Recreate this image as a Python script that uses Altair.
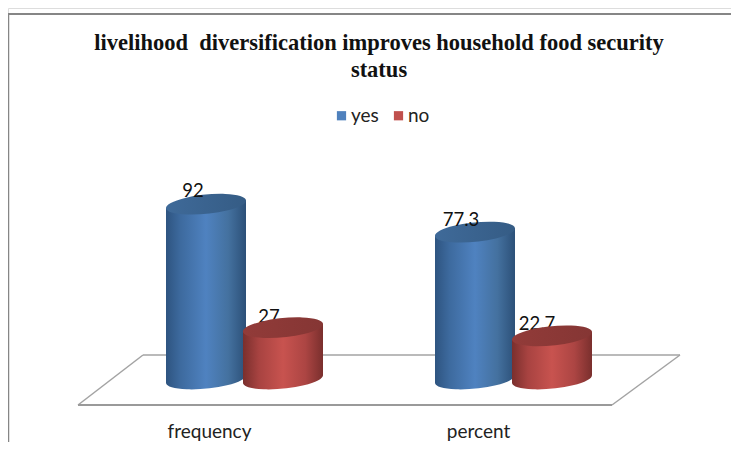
import altair as alt
import pandas as pd

categories = ["frequency", "percent"]
yes_values = [92, 77.3]
no_values = [27, 22.7]
title_lines = ["livelihood\u00a0 diversification improves household food security", "status"]

rows = [{"cat": c, "series": "yes", "value": v} for c, v in zip(categories, yes_values)]
rows += [{"cat": c, "series": "no", "value": v} for c, v in zip(categories, no_values)]
df = pd.DataFrame(rows)
df["label"] = df["value"].map(lambda v: f"{v:g}")

x_scale = alt.Scale(domain=categories, range=[67, 605], paddingInner=0, paddingOuter=0)
y_scale = alt.Scale(domain=[0, 100], range=[371, 181], nice=False, zero=False)
X = alt.X("cat:N", scale=x_scale, sort=categories, title=None,
          axis=alt.Axis(domain=False, ticks=False, labelAngle=0, labelFont="Lato",
                        labelFontSize=19, labelColor="#222222", offset=-23, labelPadding=3))
Y = alt.Y("value:Q", scale=y_scale, axis=None)
Y0 = alt.Y("zero:Q", scale=y_scale, axis=None)

ELLIPSE = "M-1,0.1 A1.005,0.24 -5.7 1 1 1,-0.1 A1.005,0.24 -5.7 1 1 -1,0.1 Z"
TOP_WEDGE = "M-1,0.1 L1,-0.1 L1,0.13 L-1,0.13 Z"
BOTTOM_WEDGE = "M-1,-0.13 L1,-0.13 L1,-0.1 L-1,0.1 Z"


def grad(stops):
    return alt.Gradient(gradient="linear", x1=0, x2=1, y1=0, y2=0,
                        stops=[alt.GradientStop(color=c, offset=o) for o, c in stops])


STYLE = {
    "yes": dict(off=-3.5,
                body=grad([(0, "#2e5480"), (0.18, "#3d6a9e"), (0.5, "#4f82c0"), (0.78, "#44719f"), (1, "#2c5078")]),
                top=grad([(0, "#3f6a99"), (1, "#355c85")])),
    "no": dict(off=73.5,
               body=grad([(0, "#7a2f2d"), (0.2, "#a84341"), (0.5, "#c8534f"), (0.78, "#ac4543"), (1, "#7a2f2d")]),
               top=grad([(0, "#923b39"), (1, "#853634")])),
}


def series_layers(name):
    s = STYLE[name]
    base = alt.Chart(df).transform_filter(alt.datum.series == name).transform_calculate(zero="0")

    def cap(shape, fill, y):
        return base.mark_point(shape=shape, size=6400, filled=True, opacity=1, fill=fill,
                               strokeWidth=0, xOffset=s["off"]).encode(x=X, y=y)

    return [
        cap(ELLIPSE, s["body"], Y0),
        cap(BOTTOM_WEDGE, s["body"], Y0),
        base.mark_bar(width=80, fill=s["body"], xOffset=s["off"], yOffset=4, y2Offset=-4).encode(
            x=X, y=Y, y2=alt.Y2("zero:Q")),
        cap(TOP_WEDGE, s["body"], Y),
    ], cap(ELLIPSE, s["top"], Y)


def label_layer(name, cat, dx, dy=-12):
    return (alt.Chart(df)
            .transform_filter((alt.datum.series == name) & (alt.datum.cat == cat))
            .mark_text(font="Lato", fontSize=18.5, color="#111111", align="center",
                       baseline="middle", dx=dx, dy=dy)
            .encode(x=X, y=Y, text="label:N"))


one = pd.DataFrame({"a": [0]})


def seg(x1, y1, x2, y2, width=1.5, color="#a3a3a3"):
    return alt.Chart(one).mark_rule(strokeWidth=width, color=color).encode(
        x=alt.value(x1), x2=alt.value(x2), y=alt.value(y1), y2=alt.value(y2))


frame = [seg(0, 6, 723, 6, 2, "#868686"), seg(0.5, 6, 0.5, 434, 1.5, "#868686")]
floor = [seg(135, 347, 672, 347), seg(135, 347, 70, 397), seg(672, 347, 604, 397),
         seg(70, 397, 604, 397, 2.2, "#9a9a9a")]

legend_layer = alt.Chart(df).mark_square(size=0).encode(
    x=X, y=Y,
    color=alt.Color("series:N", scale=alt.Scale(domain=["yes", "no"], range=["#4f81bd", "#c0504d"]),
                    legend=alt.Legend(title=None, orient="none", direction="horizontal",
                                      legendX=324, legendY=98, symbolType="square", symbolSize=85,
                                      symbolOpacity=1, labelFont="Lato", labelFontSize=19,
                                      labelColor="#222222", columnPadding=10, labelOffset=0,
                                      symbolStrokeWidth=0)))

yes_back, yes_top = series_layers("yes")
no_back, no_top = series_layers("no")

chart = alt.layer(
    *frame, *floor, legend_layer,
    *yes_back, yes_top,
    label_layer("no", "frequency", 59.5, -11), label_layer("no", "percent", 58.5),
    *no_back, no_top,
    label_layer("yes", "frequency", -16.5, -13), label_layer("yes", "percent", -17.5),
).properties(
    width=723, height=434, padding=0,
    autosize=alt.AutoSizeParams(type="none"),
    title=alt.TitleParams(text=title_lines, font="Liberation Serif", fontWeight="bold", fontSize=22.5,
                          color="#111111", anchor="start", align="center", frame="group",
                          dx=371, dy=73, lineHeight=27, offset=0, baseline="top"),
).configure_view(stroke=None).configure(background="white")

chart.save("out.html", embed_options={"renderer": "svg", "actions": False})
